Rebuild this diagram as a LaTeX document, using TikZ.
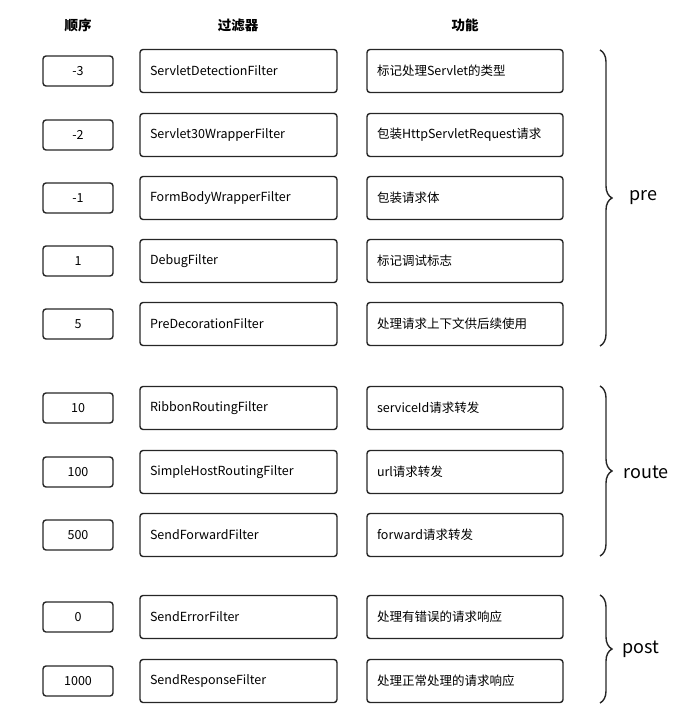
\documentclass[tikz,border=0pt]{standalone}
\usepackage{fontspec}
\setmainfont{Noto Sans CJK SC}
\usetikzlibrary{decorations.pathreplacing}

\tikzset{
  box/.style={draw=black!85, line width=1.4pt, rounded corners=3pt},
  ordbox/.style={box, minimum width=70pt, minimum height=30pt, font=\fontsize{12.5}{14}\selectfont},
  fltbox/.style={box, minimum width=197pt, minimum height=43pt, text width=177pt, inner xsep=10pt, align=left, font=\fontsize{12.5}{14}\selectfont},
  fnbox/.style={box, minimum width=196pt, minimum height=43pt, text width=176pt, inner xsep=10pt, align=left, font=\fontsize{12.5}{14}\selectfont},
  hdr/.style={font=\fontsize{13.5}{15}\selectfont\bfseries},
  grp/.style={anchor=west, font=\fontsize{18}{20}\selectfont},
  brc/.style={draw=black!85, line width=1.4pt, decorate, decoration={brace, amplitude=12pt, aspect=0.5}}
}

\begin{document}
\begin{tikzpicture}[x=1pt, y=-1pt]
\useasboundingbox (0,0) rectangle (681,717);

% column heads
\node[hdr] (hord) at (78,25) {顺序};
\node[hdr] (hflt) at (238,25) {过滤器};
\node[hdr] (hfn) at (465,25) {功能};

% pre
\node[ordbox] (o1) at (78,71) {-3};
\node[fltbox] (f1) at (238.5,71) {ServletDetectionFilter};
\node[fnbox] (g1) at (465,71) {标记处理Servlet的类型};

\node[ordbox] (o2) at (78,135) {-2};
\node[fltbox] (f2) at (238.5,135) {Servlet30WrapperFilter};
\node[fnbox] (g2) at (465,135) {包装HttpServletRequest请求};

\node[ordbox] (o3) at (78,198) {-1};
\node[fltbox] (f3) at (238.5,198) {FormBodyWrapperFilter};
\node[fnbox] (g3) at (465,198) {包装请求体};

\node[ordbox] (o4) at (78,261) {1};
\node[fltbox] (f4) at (238.5,261) {DebugFilter};
\node[fnbox] (g4) at (465,261) {标记调试标志};

\node[ordbox] (o5) at (78,324) {5};
\node[fltbox] (f5) at (238.5,324) {PreDecorationFilter};
\node[fnbox] (g5) at (465,324) {处理请求上下文供后续使用};

% route
\node[ordbox] (o6) at (78,408) {10};
\node[fltbox] (f6) at (238.5,408) {RibbonRoutingFilter};
\node[fnbox] (g6) at (465,408) {serviceId请求转发};

\node[ordbox] (o7) at (78,472) {100};
\node[fltbox] (f7) at (238.5,472) {SimpleHostRoutingFilter};
\node[fnbox] (g7) at (465,472) {url请求转发};

\node[ordbox] (o8) at (78,535) {500};
\node[fltbox] (f8) at (238.5,535) {SendForwardFilter};
\node[fnbox] (g8) at (465,535) {forward请求转发};

% post
\node[ordbox] (o9) at (78,617) {0};
\node[fltbox] (f9) at (238.5,617) {SendErrorFilter};
\node[fnbox] (g9) at (465,617) {处理有错误的请求响应};

\node[ordbox] (o10) at (78,681) {1000};
\node[fltbox] (f10) at (238.5,681) {SendResponseFilter};
\node[fnbox] (g10) at (465,681) {处理正常处理的请求响应};

% braces
\coordinate (pretop) at (600,50);
\coordinate (prebot) at (600,346);
\coordinate (rtop) at (600,386);
\coordinate (rbot) at (600,556);
\coordinate (ptop) at (600,595);
\coordinate (pbot) at (600,703);
\draw[brc] (pretop) -- (prebot);
\draw[brc] (rtop) -- (rbot);
\draw[brc] (ptop) -- (pbot);

\node[grp] (pre) at (626,198) {pre};
\node[grp] (route) at (620,472) {route};
\node[grp] (post) at (619,649) {post};
\end{tikzpicture}
\end{document}
